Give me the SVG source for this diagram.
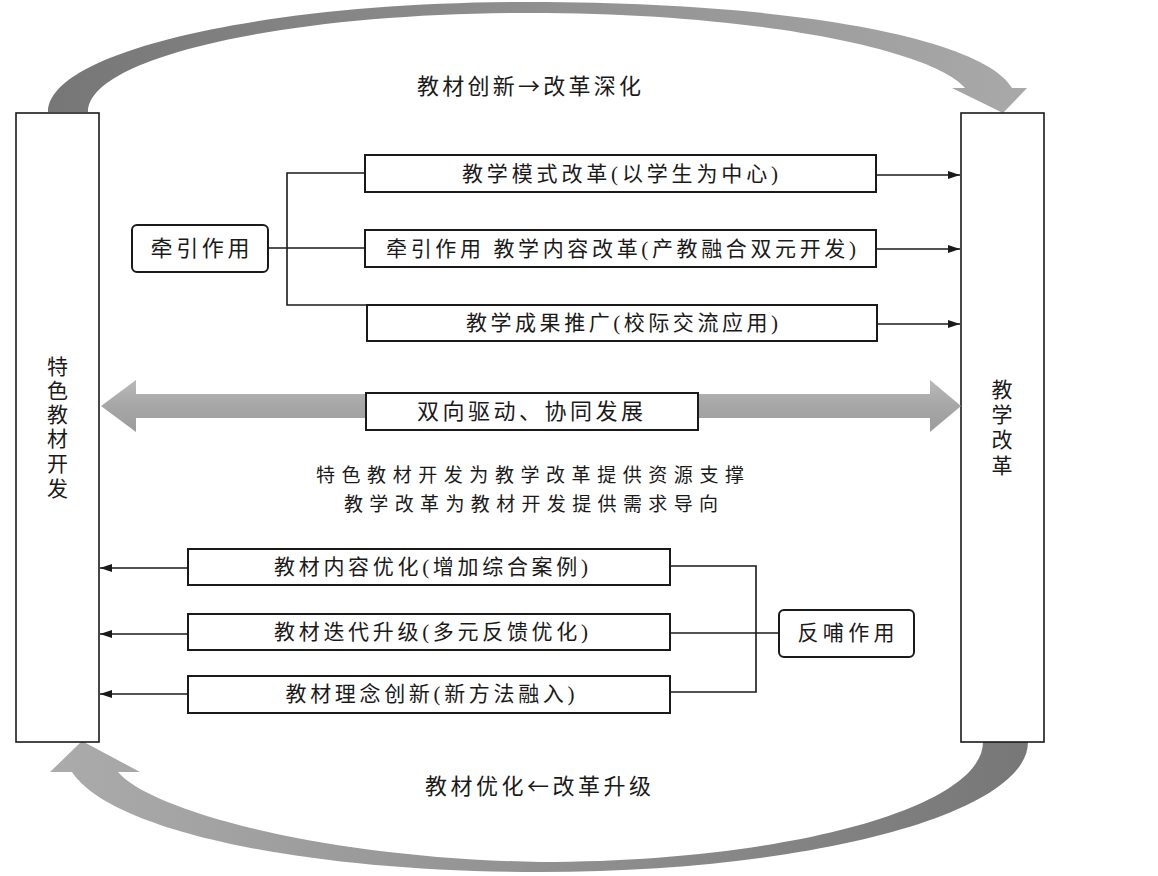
<svg xmlns="http://www.w3.org/2000/svg" width="1158" height="876" viewBox="0 0 1158 876">
<defs>
<style>
.box{fill:#fff;stroke:#1a1a1a;stroke-width:2}
.rbox{fill:#fff;stroke:#1a1a1a;stroke-width:2}
.ln{fill:none;stroke:#1a1a1a;stroke-width:1.6}
.t{font-family:"Liberation Serif","Noto Sans CJK SC",sans-serif;fill:#1a1a1a;text-anchor:middle;dominant-baseline:central}
.cjk{font-family:"Noto Sans CJK SC",sans-serif}
.f22{font-size:22px}
.f21{font-size:21px}
.f19{font-size:19px}
</style>
<marker id="ah" markerUnits="userSpaceOnUse" markerWidth="12" markerHeight="8" refX="12" refY="4" orient="auto">
<path d="M0,0 L12,4 L0,8 Z" fill="#1a1a1a"/>
</marker>
<linearGradient id="gTop" gradientUnits="userSpaceOnUse" x1="40" y1="0" x2="1030" y2="0">
<stop offset="0" stop-color="#767676"/>
<stop offset="1" stop-color="#a9a9a9"/>
</linearGradient>
<linearGradient id="gBot" gradientUnits="userSpaceOnUse" x1="1030" y1="0" x2="50" y2="0">
<stop offset="0" stop-color="#777777"/>
<stop offset="1" stop-color="#ababab"/>
</linearGradient>
<linearGradient id="gMid" x1="0" y1="0" x2="0" y2="1">
<stop offset="0" stop-color="#b9b9b9"/>
<stop offset="0.5" stop-color="#a6a6a6"/>
<stop offset="1" stop-color="#9c9c9c"/>
</linearGradient>
</defs>
<rect width="1158" height="876" fill="#fff"/>

<g id="cycle-arrows">
<path d="M48 112 C48 51 264 2 530 2 C800 2 985 40 1012 88 L1027 88 L1003 113 L952 88 L965 88 C935 52 765 13 530 13 C286 13 88 57 88 112 Z" fill="url(#gTop)"/>
<path d="M1028 742 C1028 814 809 872 540 872 C300 872 110 830 72 772 L50 772 L82 741 L140 772 L118 772 C150 810 320 858 540 862 C785 862 983 808 983 742 Z" fill="url(#gBot)"/>
<text class="t cjk f22" x="529" y="84" textLength="224" lengthAdjust="spacing">教材创新→改革深化</text>
<text class="t cjk f22" x="538" y="784" textLength="226" lengthAdjust="spacing">教材优化←改革升级</text>
</g>

<g id="connectors">
<polyline class="ln" points="268,248 365,248"/>
<polyline class="ln" points="365,173 287,173 287,305 367,305"/>
<line class="ln" x1="876" y1="175" x2="960" y2="175" marker-end="url(#ah)"/>
<line class="ln" x1="876" y1="249" x2="960" y2="249" marker-end="url(#ah)"/>
<line class="ln" x1="877" y1="324" x2="960" y2="324" marker-end="url(#ah)"/>
<polyline class="ln" points="670,566 756,566 756,692 670,692"/>
<line class="ln" x1="670" y1="633" x2="779" y2="633"/>
<line class="ln" x1="188" y1="568" x2="100" y2="568" marker-end="url(#ah)"/>
<line class="ln" x1="188" y1="634" x2="100" y2="634" marker-end="url(#ah)"/>
<line class="ln" x1="188" y1="694" x2="100" y2="694" marker-end="url(#ah)"/>
</g>

<g id="node-left">
<rect class="box" x="16" y="113" width="83" height="629" style="stroke-width:1.6"/>
<text class="t f21"><tspan x="57.5" y="367">特</tspan><tspan x="57.5" y="391">色</tspan><tspan x="57.5" y="415">教</tspan><tspan x="57.5" y="439">材</tspan><tspan x="57.5" y="464">开</tspan><tspan x="57.5" y="489">发</tspan></text>
</g>

<g id="node-right">
<rect class="box" x="961" y="113" width="83" height="629" style="stroke-width:1.6"/>
<text class="t f21"><tspan x="1002" y="390">教</tspan><tspan x="1002" y="415">学</tspan><tspan x="1002" y="440">改</tspan><tspan x="1002" y="466">革</tspan></text>
</g>

<g id="node-qianyin">
<rect class="rbox" x="132" y="225" width="136" height="47" rx="5"/>
<text class="t f22" x="200" y="248" textLength="99" lengthAdjust="spacing">牵引作用</text>
</g>

<g id="node-r1">
<rect class="box" x="365" y="155" width="511" height="37"/>
<text class="t f21" x="620" y="174" textLength="316" lengthAdjust="spacing">教学模式改革(以学生为中心)</text>
</g>
<g id="node-r2">
<rect class="box" x="365" y="230" width="511" height="37"/>
<text class="t f21" x="621" y="249" textLength="470" lengthAdjust="spacing">牵引作用 教学内容改革(产教融合双元开发)</text>
</g>
<g id="node-r3">
<rect class="box" x="367" y="305" width="510" height="36"/>
<text class="t f21" x="622" y="323" textLength="312" lengthAdjust="spacing">教学成果推广(校际交流应用)</text>
</g>

<g id="node-mid">
<path d="M101 406 L136 380 L136 394 L930 394 L930 380 L961 406 L930 432 L930 418 L136 418 L136 432 Z" fill="url(#gMid)"/>
<rect class="box" x="366" y="393" width="332" height="37"/>
<text class="t f22" x="530" y="411" textLength="226" lengthAdjust="spacing">双向驱动、协同发展</text>
</g>

<g id="node-desc">
<text class="t f19" x="530" y="475" textLength="428" lengthAdjust="spacing">特色教材开发为教学改革提供资源支撑</text>
<text class="t f19" x="531" y="504" textLength="374" lengthAdjust="spacing">教学改革为教材开发提供需求导向</text>
</g>

<g id="node-l1">
<rect class="box" x="188" y="549" width="482" height="36"/>
<text class="t f21" x="431" y="567" textLength="314" lengthAdjust="spacing">教材内容优化(增加综合案例)</text>
</g>
<g id="node-l2">
<rect class="box" x="188" y="614" width="482" height="36"/>
<text class="t f21" x="431" y="632" textLength="314" lengthAdjust="spacing">教材迭代升级(多元反馈优化)</text>
</g>
<g id="node-l3">
<rect class="box" x="188" y="676" width="482" height="37"/>
<text class="t f21" x="430" y="694" textLength="289" lengthAdjust="spacing">教材理念创新(新方法融入)</text>
</g>

<g id="node-fanbu">
<rect class="rbox" x="779" y="610" width="135" height="47" rx="5"/>
<text class="t f21" x="846" y="633" textLength="97" lengthAdjust="spacing">反哺作用</text>
</g>
</svg>
